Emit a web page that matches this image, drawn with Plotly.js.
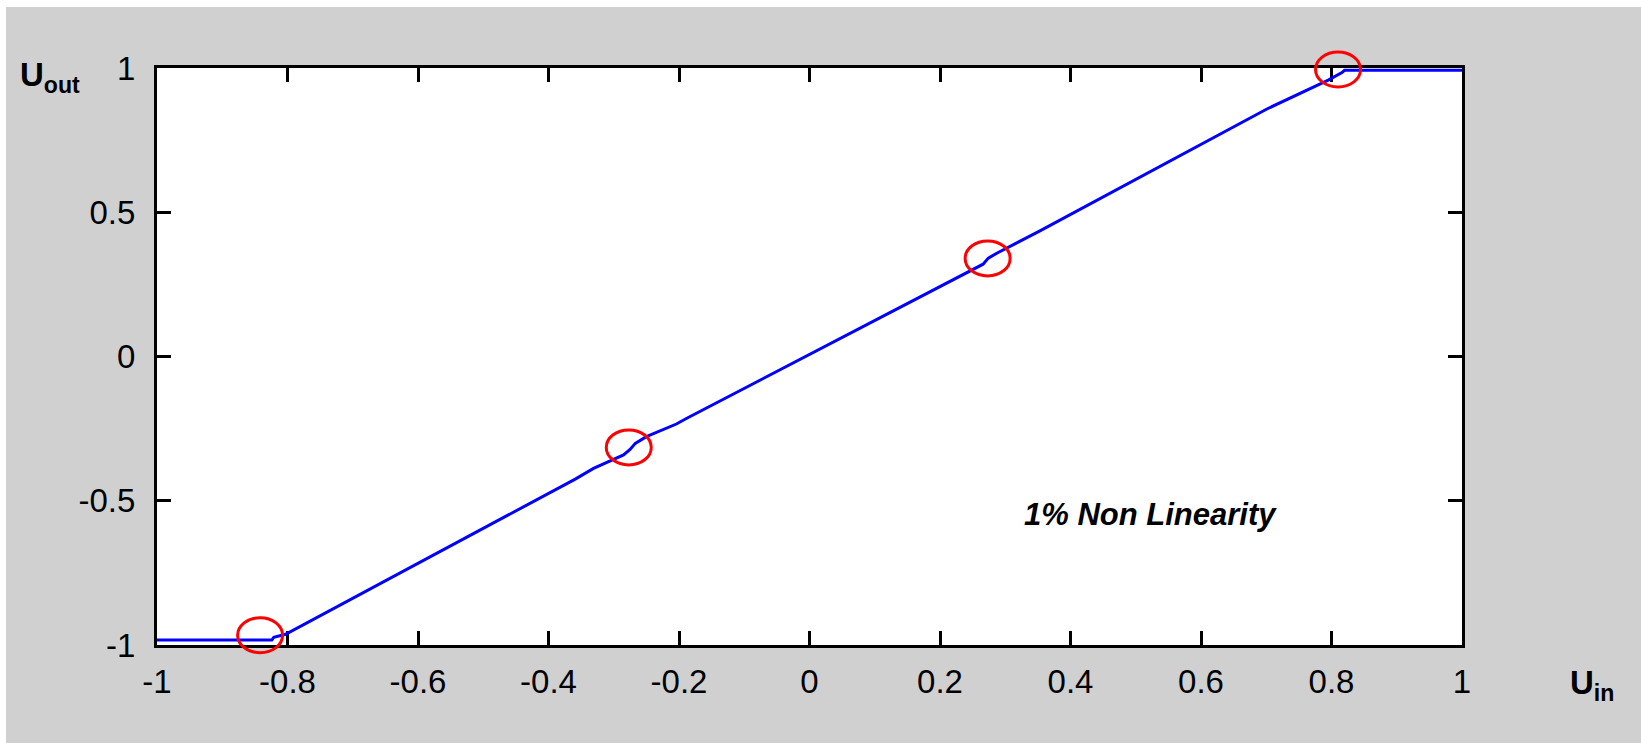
<!DOCTYPE html>
<html>
<head>
<meta charset="utf-8">
<script src="https://cdn.plot.ly/plotly-3.0.1.min.js"></script>
<style>
  html, body { margin: 0; padding: 0; background: #ffffff; }
  #plot { position: absolute; left: 6px; top: 7px; width: 1635px; height: 736px; }
</style>
</head>
<body>
<div id="plot"></div>
<script>
// Transfer characteristic
const uIn  = [-1, -0.824, -0.821, -0.803, -0.359, -0.331, -0.285, -0.275, -0.267, -0.250, -0.204, -0.188, 0.266, 0.274, 0.287, 0.351, 0.701, 0.795, 0.816, 0.820, 1];
const uOut = [-0.983, -0.983, -0.973, -0.963, -0.425, -0.388, -0.341, -0.322, -0.301, -0.278, -0.234, -0.214, 0.320, 0.341, 0.358, 0.433, 0.858, 0.958, 0.984, 0.992, 0.992];

// Highlighted spots (red ellipses)
const circleX = [-0.842, -0.277, 0.273, 0.810];
const circleY = [-0.966, -0.315, 0.340, 0.995];

// Tick labels
const xTickVals = [-1, -0.8, -0.6, -0.4, -0.2, 0, 0.2, 0.4, 0.6, 0.8, 1];
const xTickText = ['-1', '-0.8', '-0.6', '-0.4', '-0.2', '0', '0.2', '0.4', '0.6', '0.8', '1'];
const yTickVals = [-1, -0.5, 0, 0.5, 1];
const yTickText = ['-1', '-0.5', '0', '0.5', '1'];

const noteText = '1% Non Linearity';
const noteX = 0.523;
const noteY = -0.549;

const tickFont = { family: 'Liberation Sans, Arial, sans-serif', size: 33, color: '#000000' };

const trace = {
  type: 'scatter',
  mode: 'lines',
  x: uIn,
  y: uOut,
  line: { color: '#0000ff', width: 3 },
  hoverinfo: 'skip',
  showlegend: false,
  cliponaxis: false
};

const shapes = circleX.map((cx, i) => ({
  type: 'circle',
  xref: 'x', yref: 'y',
  xsizemode: 'pixel', ysizemode: 'pixel',
  xanchor: cx, yanchor: circleY[i],
  x0: -22.5, x1: 22.5, y0: -17.5, y1: 17.5,
  line: { color: '#ff0000', width: 3 },
  layer: 'above'
}));

const axisCommon = {
  showline: true, linecolor: '#000000', linewidth: 3,
  mirror: 'ticks', ticks: 'inside', ticklen: 14, tickwidth: 3, tickcolor: '#000000',
  showgrid: false, zeroline: false, tickmode: 'array',
  tickfont: tickFont, layer: 'below traces', fixedrange: true
};

const layout = {
  width: 1635, height: 736,
  margin: { l: 151, r: 179, t: 61, b: 98, pad: 0 },
  paper_bgcolor: '#d0d0d0',
  plot_bgcolor: '#ffffff',
  xaxis: Object.assign({}, axisCommon, {
    range: [-1, 1], tickvals: xTickVals, ticktext: xTickText, ticklabelstandoff: 5
  }),
  yaxis: Object.assign({}, axisCommon, {
    range: [-1, 1], tickvals: yTickVals, ticktext: yTickText, ticklabelstandoff: 12
  }),
  shapes: shapes,
  annotations: [
    {
      text: noteText, xref: 'x', yref: 'y', x: noteX, y: noteY,
      showarrow: false, xanchor: 'center', yanchor: 'middle',
      font: { family: 'Liberation Sans, Arial, sans-serif', size: 31, weight: 'bold', style: 'italic', color: '#000000' }
    },
    {
      text: 'U<sub>out</sub>', xref: 'paper', yref: 'paper', x: -0.1065, y: 0.985,
      showarrow: false, xanchor: 'left', yanchor: 'middle',
      font: { family: 'Liberation Sans, Arial, sans-serif', size: 33, weight: 'bold', color: '#000000' }
    },
    {
      text: 'U<sub>in</sub>', xref: 'paper', yref: 'paper', x: 1.0812, y: -0.0685,
      showarrow: false, xanchor: 'left', yanchor: 'middle',
      font: { family: 'Liberation Sans, Arial, sans-serif', size: 33, weight: 'bold', color: '#000000' }
    }
  ]
};

function unclipShapes() {
  document.querySelectorAll('#plot .shapelayer, #plot .shapelayer *').forEach(el => {
    if (el.hasAttribute && el.hasAttribute('clip-path')) el.removeAttribute('clip-path');
  });
}

Plotly.newPlot('plot', [trace], layout, { displayModeBar: false, staticPlot: true }).then(() => {
  unclipShapes();
  setTimeout(unclipShapes, 50);
});
</script>
</body>
</html>
